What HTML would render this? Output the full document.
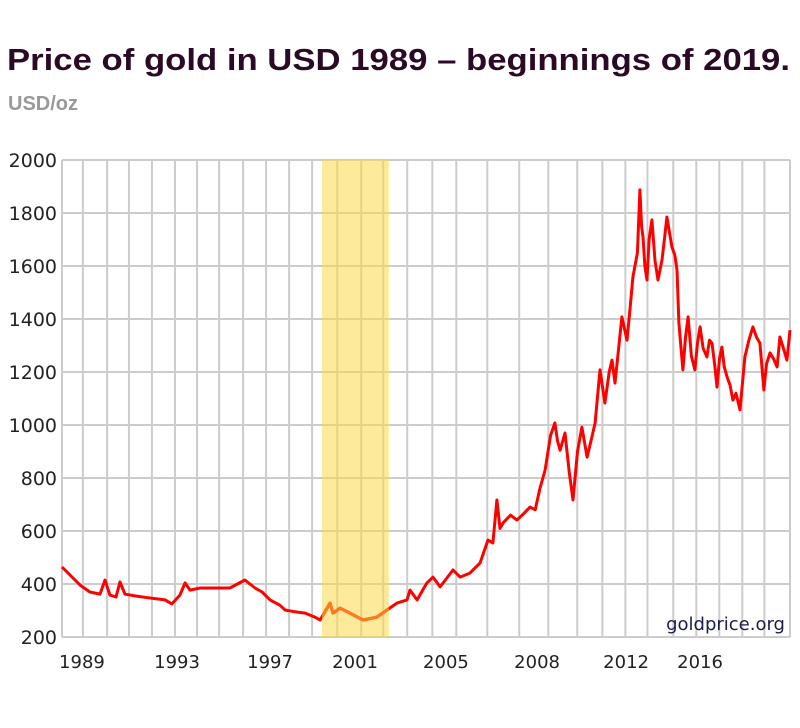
<!DOCTYPE html>
<html><head><meta charset="utf-8"><style>
body{margin:0;background:#fff;width:800px;height:728px;overflow:hidden;font-family:"Liberation Sans","DejaVu Sans",sans-serif}
svg{position:absolute;left:0;top:0}
</style></head><body>
<svg id="chart" width="800" height="728" xmlns="http://www.w3.org/2000/svg">
<text x="7" y="70" font-size="31" font-weight="bold" fill="#2b0a26" textLength="783" lengthAdjust="spacingAndGlyphs">Price of gold in USD 1989 – beginnings of 2019.</text>
<text x="8" y="110" font-size="20" font-weight="bold" fill="#999">USD/oz</text>
<g id="grid"></g>
<rect id="band" fill="#fbd849" fill-opacity="0.55"></rect>
<g id="yticks"></g>
<g id="xticks"></g>
<defs><clipPath id="bandclip"><rect id="bandclipr"></rect></clipPath></defs>
<path id="line" fill="none" stroke="#ff0000" stroke-width="3" stroke-linejoin="round"></path>
<path id="line2" fill="none" stroke="#ff7a1e" stroke-width="3" stroke-linejoin="round" clip-path="url(#bandclip)"></path>
<text x="785" y="630" font-size="18" fill="#1c1c4a" text-anchor="end" font-family="DejaVu Sans, sans-serif">goldprice.org</text>
</svg>
<script>
const years=[1988.00,1988.34,1988.77,1989.19,1989.62,1989.83,1990.04,1990.30,1990.47,1990.68,1991.11,1991.53,1991.96,1992.39,1992.68,1993.02,1993.24,1993.45,1993.88,1995.15,1995.79,1996.22,1996.52,1996.86,1997.28,1997.50,1997.92,1998.35,1998.77,1998.99,1999.41,1999.54,1999.84,2000.26,2000.82,2001.41,2001.84,2002.26,2002.69,2002.82,2003.12,2003.54,2003.80,2004.10,2004.65,2004.95,2005.37,2005.80,2006.14,2006.35,
2006.52,2006.65,2006.78,2007.10,2007.37,2007.65,2007.93,2008.15,2008.35,2008.57,2008.80,2008.99,2009.10,2009.21,2009.42,2009.60,2009.76,2009.95,2010.14,2010.36,2010.55,2010.70,2010.91,2011.12,2011.30,2011.42,2011.55,2011.84,2012.06,2012.20,2012.31,2012.50,2012.61,2012.68,2012.74,2012.82,2012.91,2013.00,2013.12,2013.25,2013.38,2013.55,2013.65,2013.76,2013.97,2014.10,2014.19,2014.27,2014.35,2014.44,2014.55,2014.66,2014.80,2014.95,2015.06,2015.17,2015.30,2015.46,2015.57,2015.68,2015.80,2015.89,2016.00,2016.10,2016.20,2016.32,2016.45,2016.57,2016.70,2016.87,2017.00,2017.08,2017.25,2017.42,2017.58,2017.72,2017.89,2018.00,2018.15,2018.30,2018.45,2018.57,2018.72,2018.87,2019.00];
const prices=[464,434,396,370,362,415,358,351,408,362,355,350,345,340,325,358,404,377,385,385,415,385,370,340,320,302,295,290,275,264,328,290,309,290,264,275,302,328,340,377,340,404,426,389,453,426,441,479,566,555,
717,610,630,660,641,665,690,680,760,830,960,1008,940,905,970,820,717,900,992,879,950,1008,1208,1083,1200,1245,1158,1408,1320,1450,1558,1650,1887,1750,1709,1600,1547,1700,1774,1620,1547,1623,1700,1785,1672,1640,1585,1385,1300,1208,1330,1408,1260,1208,1310,1370,1290,1257,1320,1309,1220,1143,1250,1294,1220,1181,1150,1094,1120,1057,1180,1257,1320,1370,1330,1309,1132,1230,1272,1250,1219,1332,1290,1245,1358];
const yTicks=[200,400,600,800,1000,1200,1400,1600,1800,2000];
const xTickLabels=["1989","1993","1997","2001","2005","2008","2012","2016"];
const xTickYears=[1988.85,1992.90,1996.86,2000.48,2004.35,2008.23,2012.02,2015.17];
const bandYears=[1999.07,2001.92];
const gridYears=[1988.00,1988.89,1989.92,1990.85,1991.83,1992.81,1993.75,1994.69,1995.71,1996.69,1997.67,1998.65,1999.72,2000.74,2001.68,2002.70,2003.77,2004.79,2006.11,2007.47,2008.71,2009.94,2011.01,2011.99,2012.93,2014.03,2015.01,2015.99,2016.97,2017.91,2019.00];
const L=62,R=790,T=160,B=637;
const x=v=>L+(v-1988)/(2019-1988)*(R-L);
const y=v=>B-(v-200)/(2000-200)*(B-T);
const NS="http://www.w3.org/2000/svg";
function mk(tag,parent,attrs){const e=document.createElementNS(NS,tag);for(const k in attrs)e.setAttribute(k,attrs[k]);parent.appendChild(e);return e;}
const grid=document.getElementById('grid');
gridYears.forEach(g=>{const l=mk('line',grid,{x1:x(g),x2:x(g),y1:T,y2:B,stroke:'#cccccc','stroke-width':2});

});
const yt=document.getElementById('yticks');
yTicks.forEach(v=>{const l=mk('line',grid,{x1:L,x2:R,y1:y(v),y2:y(v),stroke:'#cccccc','stroke-width':2});


const t=mk('text',yt,{x:57,y:y(v)+7,'font-size':19,fill:'#222','text-anchor':'end','font-family':'DejaVu Sans, sans-serif'});t.textContent=v;

});
const xt=document.getElementById('xticks');
xTickLabels.forEach((s,i)=>{const t=mk('text',xt,{x:x(xTickYears[i]),y:668,'font-size':18,fill:'#222','text-anchor':'middle','font-family':'DejaVu Sans, sans-serif'});t.textContent=s;

});
const band=document.getElementById('band');
band.setAttribute('x',x(bandYears[0]));band.setAttribute('width',x(bandYears[1])-x(bandYears[0]));band.setAttribute('y',T);band.setAttribute('height',B-T);
const bc=document.getElementById('bandclipr');
bc.setAttribute('x',x(bandYears[0]));bc.setAttribute('width',x(bandYears[1])-x(bandYears[0]));bc.setAttribute('y',T);bc.setAttribute('height',B-T);
const d=years.map((yr,i)=>(i?'L':'M')+x(yr).toFixed(1)+','+y(prices[i]).toFixed(1)).join('');
document.getElementById('line').setAttribute('d',d);
document.getElementById('line2').setAttribute('d',d);
</script>
</body></html>
